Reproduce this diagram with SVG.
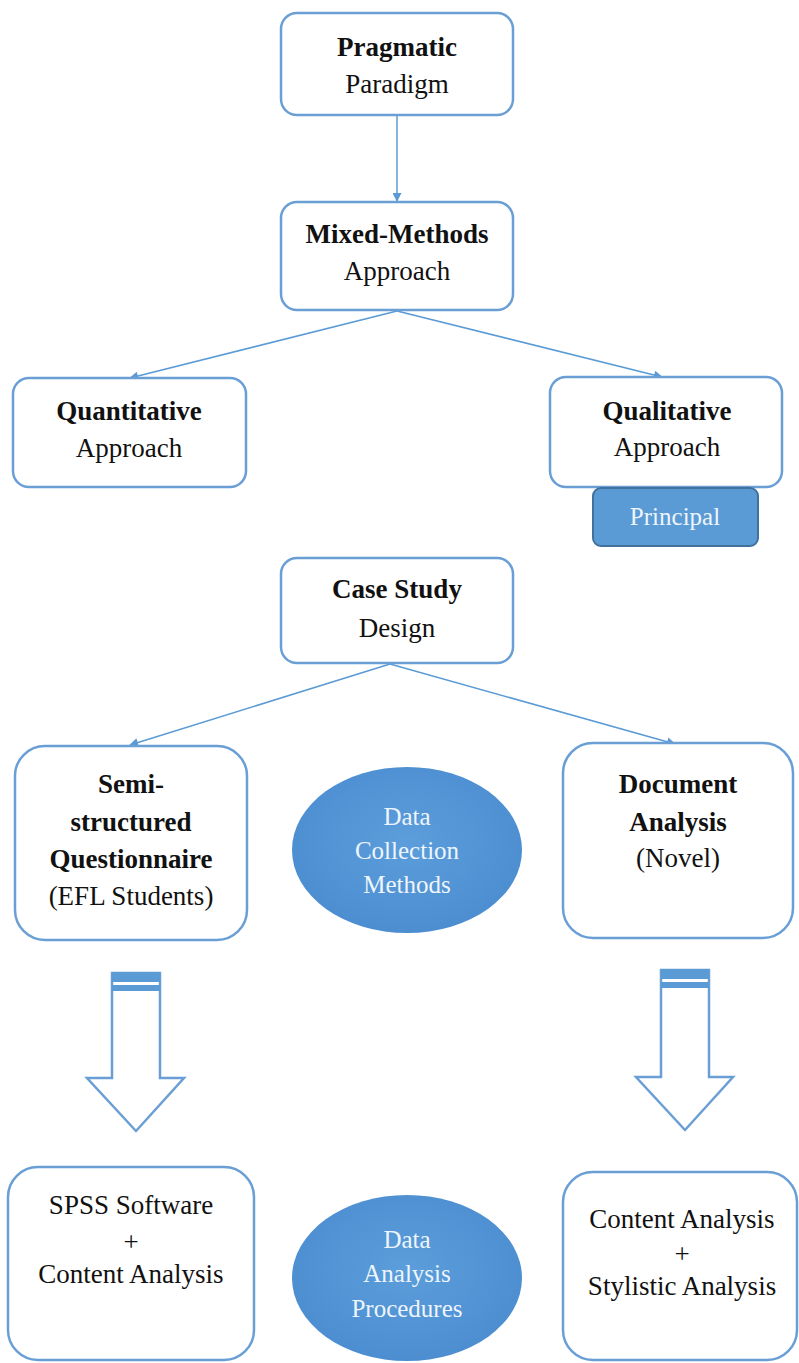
<svg xmlns="http://www.w3.org/2000/svg" width="799" height="1363" viewBox="0 0 799 1363">
  <defs>
    <marker id="ah" viewBox="0 0 10 10" refX="9" refY="5" markerWidth="11" markerHeight="9" orient="auto" markerUnits="userSpaceOnUse">
      <path d="M0,0 L10,5 L0,10 z" fill="#5b9bd5"/>
    </marker>
    <radialGradient id="ovalFill" cx="50%" cy="45%" r="60%">
      <stop offset="0" stop-color="#5c9edb"/>
      <stop offset="1" stop-color="#4a8ccf"/>
    </radialGradient>
  </defs>

  <rect width="799" height="1363" fill="#ffffff"/>

  <!-- connectors -->
  <g id="connectors" fill="none" stroke="#5b9bd5" stroke-width="1.5" marker-end="url(#ah)">
    <line x1="397" y1="115" x2="397" y2="201"/>
    <line x1="397" y1="311" x2="130" y2="378"/>
    <line x1="397" y1="311" x2="662" y2="377"/>
    <line x1="390" y1="664" x2="130" y2="745"/>
    <line x1="390" y1="664" x2="675" y2="744"/>
  </g>

  <!-- rounded boxes: white fill, blue outline -->
  <g fill="#ffffff" stroke="#6a9fd6" stroke-width="2.5">
    <rect id="pragmatic-box" x="281" y="13" width="232" height="102" rx="16"/>
    <rect id="mixed-box" x="281" y="202" width="232" height="108" rx="16"/>
    <rect id="quantitative-box" x="13" y="378" width="233" height="109" rx="16"/>
    <rect id="qualitative-box" x="550" y="377" width="232" height="110" rx="16"/>
    <rect id="case-box" x="281" y="558" width="232" height="105" rx="16"/>
    <rect id="questionnaire-box" x="15" y="746" width="232" height="194" rx="30"/>
    <rect id="document-box" x="563" y="743" width="230" height="195" rx="30"/>
    <rect id="spss-box" x="8" y="1167" width="246" height="193" rx="30"/>
    <rect id="stylistic-box" x="563" y="1172" width="234" height="188" rx="30"/>
  </g>

  <g id="pragmatic" font-size="27" fill="#111" text-anchor="middle">
    <text font-family="Liberation Serif, DejaVu Serif, serif" font-weight="bold" x="397" y="56">Pragmatic</text>
    <text font-family="Liberation Serif, DejaVu Serif, serif" x="397" y="93">Paradigm</text>
  </g>

  <g id="mixed-methods" font-size="27" fill="#111" text-anchor="middle">
    <text font-family="Liberation Serif, DejaVu Serif, serif" font-weight="bold" x="397" y="243">Mixed-Methods</text>
    <text font-family="Liberation Serif, DejaVu Serif, serif" x="397" y="280">Approach</text>
  </g>

  <g id="quantitative" font-size="27" fill="#111" text-anchor="middle">
    <text font-family="Liberation Serif, DejaVu Serif, serif" font-weight="bold" x="129" y="420">Quantitative</text>
    <text font-family="Liberation Serif, DejaVu Serif, serif" x="129" y="457">Approach</text>
  </g>

  <g id="qualitative" font-size="27" fill="#111" text-anchor="middle">
    <text font-family="Liberation Serif, DejaVu Serif, serif" font-weight="bold" x="667" y="420">Qualitative</text>
    <text font-family="Liberation Serif, DejaVu Serif, serif" x="667" y="456">Approach</text>
  </g>

  <g id="principal">
    <rect x="593" y="488" width="165" height="58" rx="8" fill="#5b9bd5" stroke="#41719c" stroke-width="2"/>
    <text font-family="Liberation Serif, DejaVu Serif, serif" font-size="25" fill="#eef5fc" text-anchor="middle" x="675" y="525">Principal</text>
  </g>

  <g id="case-study" font-size="27" fill="#111" text-anchor="middle">
    <text font-family="Liberation Serif, DejaVu Serif, serif" font-weight="bold" x="397" y="598">Case Study</text>
    <text font-family="Liberation Serif, DejaVu Serif, serif" x="397" y="637">Design</text>
  </g>

  <g id="questionnaire" font-size="27" fill="#111" text-anchor="middle">
    <text font-family="Liberation Serif, DejaVu Serif, serif" font-weight="bold" x="131" y="793">Semi-</text>
    <text font-family="Liberation Serif, DejaVu Serif, serif" font-weight="bold" x="131" y="831">structured</text>
    <text font-family="Liberation Serif, DejaVu Serif, serif" font-weight="bold" x="131" y="868">Questionnaire</text>
    <text font-family="Liberation Serif, DejaVu Serif, serif" x="131" y="905">(EFL Students)</text>
  </g>

  <g id="data-collection" font-size="25" fill="#eef5fc" text-anchor="middle">
    <ellipse cx="407" cy="850" rx="115" ry="83" fill="url(#ovalFill)"/>
    <text font-family="Liberation Serif, DejaVu Serif, serif" x="407" y="825">Data</text>
    <text font-family="Liberation Serif, DejaVu Serif, serif" x="407" y="859">Collection</text>
    <text font-family="Liberation Serif, DejaVu Serif, serif" x="407" y="893">Methods</text>
  </g>

  <g id="document-analysis" font-size="27" fill="#111" text-anchor="middle">
    <text font-family="Liberation Serif, DejaVu Serif, serif" font-weight="bold" x="678" y="793">Document</text>
    <text font-family="Liberation Serif, DejaVu Serif, serif" font-weight="bold" x="678" y="831">Analysis</text>
    <text font-family="Liberation Serif, DejaVu Serif, serif" x="678" y="867">(Novel)</text>
  </g>

  <!-- striped block arrows -->
  <g id="block-arrow-left">
    <path d="M112,973 L112,1078 L87,1078 L136,1131 L184,1078 L160,1078 L160,973 Z" fill="#ffffff" stroke="#6a9fd6" stroke-width="2.5"/>
    <rect x="112" y="972" width="48" height="10" fill="#5b9bd5"/>
    <rect x="112" y="985" width="48" height="6" fill="#5b9bd5"/>
  </g>

  <g id="block-arrow-right">
    <path d="M661,970 L661,1077 L636,1077 L685,1130 L733,1077 L709,1077 L709,970 Z" fill="#ffffff" stroke="#6a9fd6" stroke-width="2.5"/>
    <rect x="661" y="969" width="48" height="10" fill="#5b9bd5"/>
    <rect x="661" y="982" width="48" height="6" fill="#5b9bd5"/>
  </g>

  <g id="spss" font-size="27" fill="#111" text-anchor="middle">
    <text font-family="Liberation Serif, DejaVu Serif, serif" x="131" y="1214">SPSS Software</text>
    <text font-family="Liberation Serif, DejaVu Serif, serif" x="131" y="1251">+</text>
    <text font-family="Liberation Serif, DejaVu Serif, serif" x="131" y="1283">Content Analysis</text>
  </g>

  <g id="data-analysis" font-size="25" fill="#eef5fc" text-anchor="middle">
    <ellipse cx="407" cy="1278" rx="115" ry="83" fill="url(#ovalFill)"/>
    <text font-family="Liberation Serif, DejaVu Serif, serif" x="407" y="1248">Data</text>
    <text font-family="Liberation Serif, DejaVu Serif, serif" x="407" y="1282">Analysis</text>
    <text font-family="Liberation Serif, DejaVu Serif, serif" x="407" y="1317">Procedures</text>
  </g>

  <g id="content-stylistic" font-size="27" fill="#111" text-anchor="middle">
    <text font-family="Liberation Serif, DejaVu Serif, serif" x="682" y="1228">Content Analysis</text>
    <text font-family="Liberation Serif, DejaVu Serif, serif" x="682" y="1263">+</text>
    <text font-family="Liberation Serif, DejaVu Serif, serif" x="682" y="1295">Stylistic Analysis</text>
  </g>
</svg>
